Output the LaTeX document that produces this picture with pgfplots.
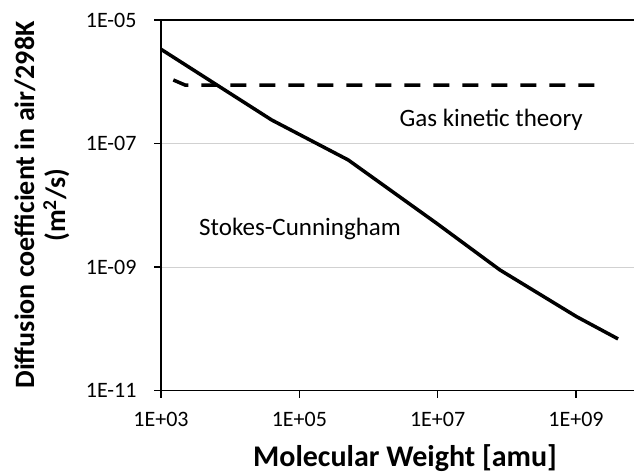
\documentclass[border=0pt]{standalone}
\usepackage{fontspec}
\setmainfont{Carlito}
\usepackage{pgfplots}
\pgfplotsset{compat=1.18}
\begin{document}
\begin{tikzpicture}[x=1pt,y=1pt]
\useasboundingbox (0,0) rectangle (634,473);
\begin{axis}[
  at={(161pt,82.3pt)}, anchor=south west,
  scale only axis, width=473pt, height=370.7pt,
  xmode=log, ymode=log,
  xmin=1e3, xmax=6.9e9, ymin=1e-11, ymax=1e-5,
  axis x line*=bottom, axis y line*=left,
  axis line style={black, line width=1.3pt, -},
  xtick={1e3,1e5,1e7,1e9}, xticklabels={1E+03,1E+05,1E+07,1E+09},
  ytick={1e-11,1e-9,1e-7,1e-5}, yticklabels={1E-11,1E-09,1E-07,1E-05},
  minor xtick={}, minor ytick={},
  xtick pos=bottom, ytick pos=left,
  xtick align=outside, ytick align=outside, major tick length=7pt,
  tick style={black, line width=1.3pt},
  ymajorgrids, grid style={black!18, line width=1.2pt},
  ticklabel style={font=\fontsize{22}{26}\selectfont},
  xticklabel style={yshift=-11pt},
  yticklabel style={xshift=-14pt},
  clip=false,
]
\addplot[black, line width=3.5pt, dash pattern=on 16pt off 13pt] coordinates {
  (1507,1.07e-6) (2223,8.87e-7) (2.82e9,8.87e-7)};
\addplot[black, line width=3.5pt, line join=round] coordinates {
  (1000,3.36e-6) (3.98e4,2.41e-7) (5.09e5,5.43e-8) (9.64e6,5.13e-9)
  (7.93e7,9.02e-10) (1.02e9,1.58e-10) (4.06e9,6.89e-11)};
\draw[black, line width=1.3pt] (rel axis cs:0,1) -- (rel axis cs:1,1);
\node[font=\fontsize{25}{30}\selectfont, anchor=base] at (rel axis cs:0.698,0.712) {Gas kinetic theory};
\node[font=\fontsize{25}{30}\selectfont, anchor=base] at (rel axis cs:0.294,0.420) {Stokes-Cunningham};
\end{axis}
\node[font=\bfseries\fontsize{30}{36}\selectfont, anchor=base] at (405,6.5) {Molecular Weight [amu]};
\node[font=\bfseries\fontsize{28}{31}\selectfont, rotate=90, align=center] at (42,268) {Diffusion coefficient in air/298K\\(m\textsuperscript{2}/s)};
\end{tikzpicture}
\end{document}
